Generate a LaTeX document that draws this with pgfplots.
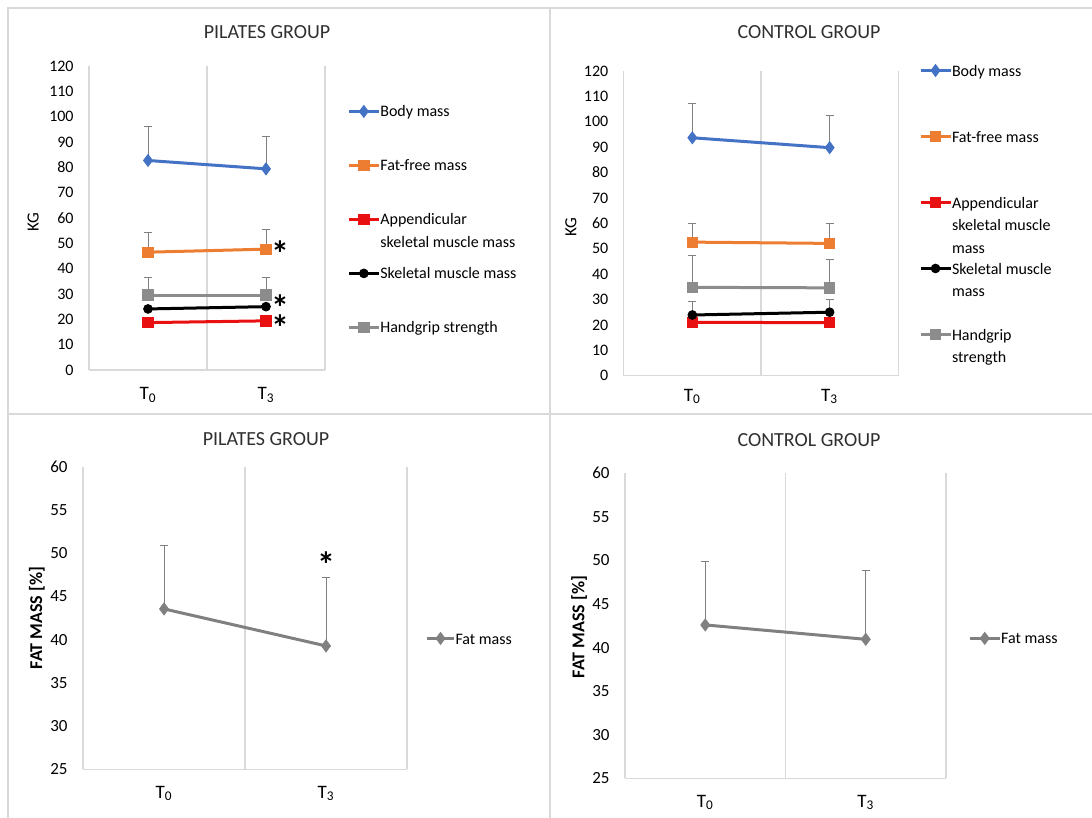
\documentclass[border=0pt]{standalone}
\usepackage{fontspec}
\setmainfont{Carlito}
\usepackage{pgfplots}
\pgfplotsset{compat=1.18}
\definecolor{cblue}{HTML}{4472C4}
\definecolor{corange}{HTML}{ED7D31}
\definecolor{cred}{HTML}{E81010}
\definecolor{cgray}{HTML}{8C8C8C}
\definecolor{egray}{HTML}{808080}
\definecolor{gridc}{HTML}{D9D9D9}
\definecolor{txt}{HTML}{303030}
\pgfplotsset{
  panel/.style={
    scale only axis,
    axis line style={draw=none},
    xmin=-0.5,xmax=1.5,
    xtick={0,1}, xticklabels={T\textsubscript{0},T\textsubscript{3}},
    extra x ticks={-0.5,0.5,1.5}, extra x tick labels={},
    extra x tick style={grid=major, major grid style={gridc, line width=0.6pt}},
    major tick length=0pt,
    yticklabel style={inner sep=0pt, anchor=east, xshift=-7.5pt, font=\fontsize{8}{9}\selectfont, text=black},
    xticklabel style={inner sep=0pt, anchor=center, font=\fontsize{9.5}{10}\selectfont, text=black},
    /pgf/number format/assume math mode=true,
    clip=false,
    legend style={draw=none, fill=none, inner sep=0pt, font=\fontsize{8}{11.25}\selectfont, column sep=0pt, text=black, cells={anchor=base west}},
    legend image code/.code={\draw[mark repeat=2,mark phase=2,#1,yshift=2.8pt] plot coordinates {(0pt,0pt) (7.5pt,0pt) (15pt,0pt)};},
  },
  eb/.style={error bars/.cd, y dir=plus, y explicit, error bar style={egray,line width=0.5pt}, error mark options={rotate=90, egray, mark size=2pt, line width=0.5pt}},
  sb/.style={line width=1.5pt, mark options={solid,line width=0.4pt}},
}
\tikzset{sigstar/.style={font=\fontsize{18}{18}\selectfont\bfseries, inner sep=0pt, text height=3pt, text depth=3pt, anchor=center}}
\newcommand{\sig}{\raisebox{-0.5em}{*}}
\begin{document}
\begin{tikzpicture}
\path[use as bounding box] (0,0) rectangle (546pt,409pt);
\draw[gridc, line width=0.8pt] (4pt,0) -- (4pt,405pt) -- (546pt,405pt);
\draw[gridc, line width=0.8pt] (275pt,0) -- (275pt,405pt);
\draw[gridc, line width=0.8pt] (4pt,202pt) -- (546pt,202pt);
\node[font=\fontsize{10}{12}\selectfont, text=txt] at (133.5pt,393pt) {PILATES GROUP};
\node[font=\fontsize{10}{12}\selectfont, text=txt] at (404.5pt,393pt) {CONTROL GROUP};
\node[font=\fontsize{10}{12}\selectfont, text=txt] at (133pt,189.5pt) {PILATES GROUP};
\node[font=\fontsize{10}{12}\selectfont, text=txt] at (404.5pt,189pt) {CONTROL GROUP};

% ---------- top left
\begin{axis}[panel, at={(44.5pt,224pt)}, anchor=south west, width=118pt, height=152pt,
  ymin=0, ymax=120, ytick distance=10,
  xticklabel style={yshift=-12.5pt},
  every axis y label/.style={at={(axis description cs:-0.237,0.487)}, rotate=90, anchor=center, font=\fontsize{8.5}{9}\selectfont},
  ylabel={KG},
  legend style={at={(1.093,0.873)}, anchor=north west, nodes={inner sep=0pt, text height=6pt, text depth=21pt}},
]
\draw[gridc, line width=0.6pt] (rel axis cs:0,0) -- (rel axis cs:1,0);
\addplot[cblue, sb, mark=diamond*, mark size=3pt, eb] table[y error=e] {
x y e
0 82.7 13.3
1 79.4 12.8
};
\addlegendentry{Body mass}
\addplot[corange, sb, mark=square*, mark size=2.6pt, eb] table[y error=e] {
x y e
0 46.5 7.9
1 47.7 7.9
};
\addlegendentry{Fat-free mass}
\addplot[cred, sb, mark=square*, mark size=2.6pt] table {
x y
0 18.7
1 19.4
};
\addlegendentry{\begin{tabular}[t]{@{}l@{}}Appendicular\\skeletal muscle mass\end{tabular}}
\addplot[black, sb, mark=*, mark size=2.2pt] table {
x y
0 24.1
1 25.0
};
\addlegendentry{Skeletal muscle mass}
\addplot[cgray, sb, mark=square*, mark size=2.6pt, eb] table[y error=e] {
x y e
0 29.6 6.9
1 29.6 6.9
};
\addlegendentry{Handgrip strength}
\node[sigstar] at (axis cs:1.12,47.8) {\sig};
\node[sigstar] at (axis cs:1.12,26.8) {\sig};
\node[sigstar] at (axis cs:1.12,18.9) {\sig};
\end{axis}

% ---------- top right
\begin{axis}[panel, at={(311.85pt,221.15pt)}, anchor=south west, width=137.3pt, height=152.35pt,
  ymin=0, ymax=120, ytick distance=10,
  xticklabel style={yshift=-10.5pt},
  every axis y label/.style={at={(axis description cs:-0.192,0.488)}, rotate=90, anchor=center, font=\fontsize{8.5}{9}\selectfont},
  ylabel={KG},
  legend style={at={(1.074,1.024)}, anchor=north west, nodes={inner sep=0pt, text height=6pt, text depth=27pt}},
]
\draw[gridc, line width=0.6pt] (rel axis cs:0,0) -- (rel axis cs:1,0);
\addplot[cblue, sb, mark=diamond*, mark size=3pt, eb] table[y error=e] {
x y e
0 93.7 13.3
1 89.8 12.6
};
\addlegendentry{Body mass}
\addplot[corange, sb, mark=square*, mark size=2.6pt, eb] table[y error=e] {
x y e
0 52.6 7.4
1 52.1 7.9
};
\addlegendentry{Fat-free mass}
\addplot[cred, sb, mark=square*, mark size=2.6pt] table {
x y
0 21.0
1 20.9
};
\addlegendentry{\begin{tabular}[t]{@{}l@{}}Appendicular\\skeletal muscle\\mass\end{tabular}}
\addplot[black, sb, mark=*, mark size=2.2pt, eb] table[y error=e] {
x y e
0 23.9 5.5
1 25.0 5.1
};
\addlegendentry{\begin{tabular}[t]{@{}l@{}}Skeletal muscle\\mass\end{tabular}}
\addplot[cgray, sb, mark=square*, mark size=2.6pt, eb] table[y error=e] {
x y e
0 34.8 12.7
1 34.6 11.2
};
\addlegendentry{\begin{tabular}[t]{@{}l@{}}Handgrip\\strength\end{tabular}}
\end{axis}

% ---------- bottom left
\begin{axis}[panel, at={(41.5pt,24.35pt)}, anchor=south west, width=162pt, height=151.3pt,
  ymin=25, ymax=60, ytick distance=5,
  yticklabel style={font=\fontsize{8.5}{9}\selectfont},
  xticklabel style={yshift=-12pt},
  every axis y label/.style={at={(axis description cs:-0.142,0.5)}, rotate=90, anchor=center, font=\fontsize{9}{10}\selectfont\bfseries},
  ylabel={FAT MASS [\%]},
  legend style={at={(1.056,0.455)}, anchor=north west, nodes={inner sep=0pt, text height=6pt}},
  legend image code/.code={\draw[mark repeat=2,mark phase=2,#1,yshift=2.8pt] plot coordinates {(0pt,0pt) (6.75pt,0pt) (13.5pt,0pt)};},
]
\draw[gridc, line width=0.6pt] (rel axis cs:0,0) -- (rel axis cs:1,0);
\addplot[egray, sb, mark=diamond*, mark size=3pt, eb] table[y error=e] {
x y e
0 43.55 7.3
1 39.27 7.93
};
\addlegendentry{Fat mass}
\node[sigstar] at (axis cs:1,49.3) {\sig};
\end{axis}

% ---------- bottom right
\begin{axis}[panel, at={(312.5pt,19.85pt)}, anchor=south west, width=160.5pt, height=152.5pt,
  ymin=25, ymax=60, ytick distance=5,
  yticklabel style={font=\fontsize{8.5}{9}\selectfont},
  xticklabel style={yshift=-12pt},
  every axis y label/.style={at={(axis description cs:-0.143,0.496)}, rotate=90, anchor=center, font=\fontsize{9}{10}\selectfont\bfseries},
  ylabel={FAT MASS [\%]},
  legend style={at={(1.068,0.481)}, anchor=north west, nodes={inner sep=0pt, text height=6pt}},
]
\draw[gridc, line width=0.6pt] (rel axis cs:0,0) -- (rel axis cs:1,0);
\addplot[egray, sb, mark=diamond*, mark size=3pt, eb] table[y error=e] {
x y e
0 42.6 7.3
1 40.95 7.85
};
\addlegendentry{Fat mass}
\end{axis}
\end{tikzpicture}
\end{document}
